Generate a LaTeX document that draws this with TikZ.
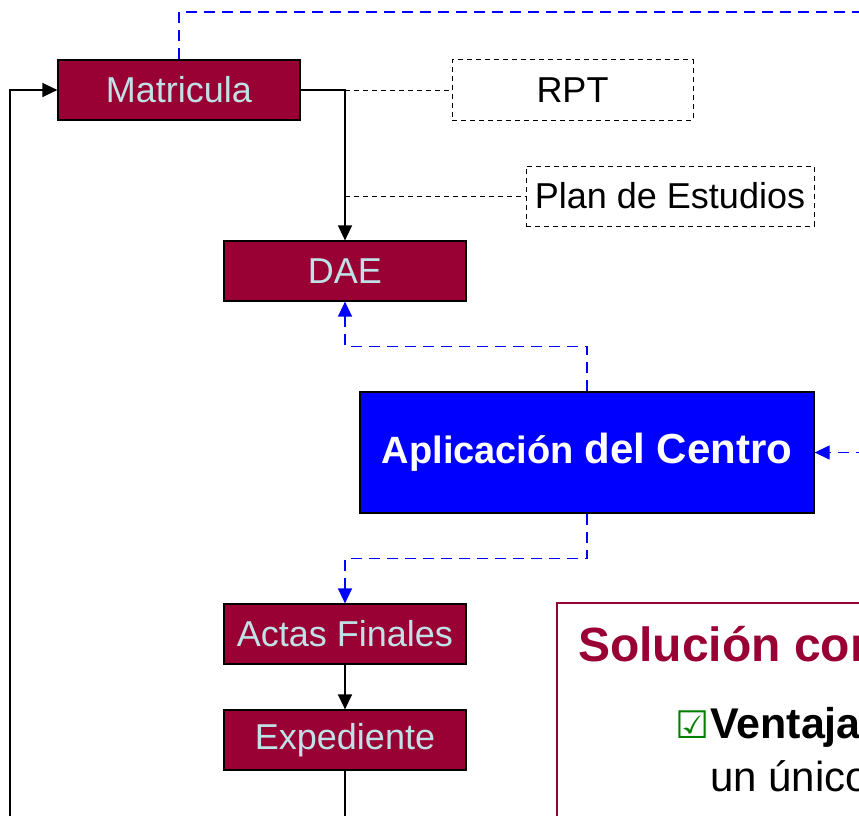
\documentclass[tikz,border=0pt]{standalone}
\usepackage{fontspec}
\setmainfont{Liberation Sans}
\newfontfamily\symfont{DejaVu Sans}
\usetikzlibrary{arrows.meta}
\definecolor{vino}{RGB}{153,0,51}
\definecolor{palecyan}{RGB}{192,226,230}

\begin{document}
\begin{tikzpicture}[x=1pt, y=-1pt, >={Triangle[length=15pt,width=14pt]},
  every node/.style={font=\fontsize{36}{40}\selectfont},
  redbox/.style={draw=black, line width=1.2pt, fill=vino, text=palecyan,
    minimum width=242pt, minimum height=60pt, inner sep=0pt},
  dashbox/.style={draw=black, line width=1pt, dash pattern=on 5pt off 4pt,
    minimum height=60pt, inner sep=0pt},
  link/.style={line width=1.3pt},
  dotlink/.style={line width=1pt, dash pattern=on 5pt off 4pt},
  bluelink/.style={draw=blue, line width=1.3pt, dash pattern=on 11pt off 7pt}]

\useasboundingbox (0,0) rectangle (859,816);
\clip (0,0) rectangle (859,816);

% Boxes (left column)
\node[redbox] (mat) at (179,90) {Matricula};
\node[redbox] (dae) at (345,271) {DAE};
\node[redbox] (act) at (345,634) {Actas Finales};
\node[redbox] (exp) at (345,740) {Expediente};

% Dashed side boxes
\node[dashbox, minimum width=241pt] (rpt) at (572.5,90) {RPT};
\node[dashbox, minimum width=288pt] (plan) at (670,196) {Plan de Estudios};

% Central application
\node[draw=black, line width=1.3pt, fill=blue, text=white,
      minimum width=454pt, minimum height=121pt, inner sep=0pt,
      font=\bfseries] (app) at (587,452.5)
  {\fontsize{38}{40}\selectfont Aplicación \fontsize{42}{44}\selectfont del Centro};

% Solid flow
\draw[link,->] (mat.east) -| (dae.north);
\draw[link,->] (act) -- (exp);
\draw[link,->] (exp.south) |- (10,850) |- (mat.west);

% Dashed references
\draw[dotlink] (mat.east -| dae.north) -- (rpt.west);
\draw[dotlink] (dae.north |- plan.west) -- (plan.west);

% Blue links
\draw[bluelink,->] (app.north) -- ++(0,-45) -| (dae.south);
\draw[bluelink,->] (app.south) -- ++(0,45) -| (act.north);
\draw[bluelink,->] (mat.north) |- (900,12) -- (900,452.5) -- (app.east);

% Solution panel
\draw[vino, line width=1.2pt] (557,603) rectangle (900,900);
\node[anchor=base west, inner sep=0pt, text=vino,
      font=\fontsize{48}{52}\selectfont\bfseries] (sol) at (578,661) {Solución con};
\node[anchor=base west, inner sep=0pt, font=\fontsize{43}{46}\selectfont\bfseries]
  (ven) at (710,738) {Ventajas};
\node[anchor=base east, inner sep=0pt, text=green!50!black,
      font=\symfont\fontsize{38}{40}\selectfont] (chk) at (ven.base west) {☑};
\node[anchor=base west, inner sep=0pt, font=\fontsize{42}{46}\selectfont]
  (uni) at (710,791) {un único};
\end{tikzpicture}
\end{document}
